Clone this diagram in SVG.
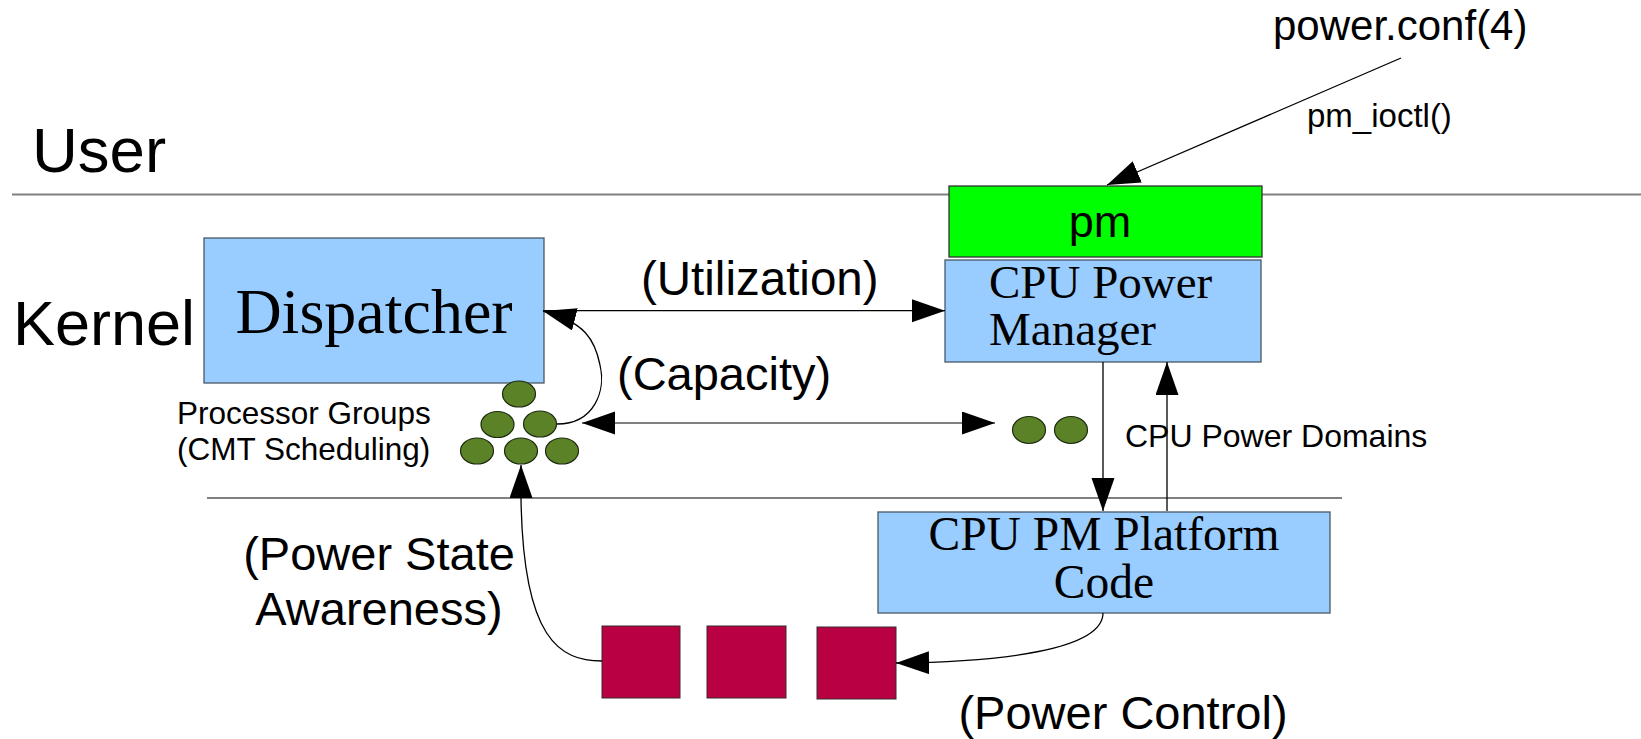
<svg xmlns="http://www.w3.org/2000/svg" width="1641" height="739" viewBox="0 0 1641 739">
<style>
.sans{font-family:"Liberation Sans",Arial,sans-serif;fill:#000}
.serif{font-family:"Liberation Serif","Times New Roman",serif;fill:#000}
.blue{fill:#99ccff;stroke:#4a5866;stroke-width:1.3}
.red{fill:#b80043;stroke:#3a2a2a;stroke-width:1}
.dot{fill:#5b8227;stroke:#1e2a10;stroke-width:1.2}
.sep{stroke:#808080;stroke-width:2;fill:none}
.conn{stroke:#000;stroke-width:1.3;fill:none}
</style>
<defs>
<marker id="arr" markerUnits="userSpaceOnUse" markerWidth="34" markerHeight="24" refX="33" refY="11.5" orient="auto-start-reverse" viewBox="0 0 34 24">
<path d="M0,0 L33,11.5 L0,23 z" fill="#000"/>
</marker>
</defs>
<rect width="1641" height="739" fill="#fff"/>

<g id="separators">
<line class="sep" x1="12" y1="194.5" x2="1641" y2="194.5"/>
<line class="sep" x1="207" y1="498" x2="1342" y2="498"/>
</g>

<g id="labels">
<text class="sans" x="32" y="172" font-size="63.5">User</text>
<text class="sans" x="13" y="345" font-size="63">Kernel</text>
<text class="sans" x="1273" y="40" font-size="42">power.conf(4)</text>
<text class="sans" x="1307" y="127" font-size="33">pm_ioctl()</text>
<text class="sans" x="641" y="295" font-size="47.5">(Utilization)</text>
<text class="sans" x="617" y="390" font-size="47">(Capacity)</text>
<text class="sans" x="1125" y="447" font-size="32">CPU Power Domains</text>
<text class="sans" x="177" y="424" font-size="31.5">Processor Groups</text>
<text class="sans" x="177" y="460" font-size="31.5">(CMT Scheduling)</text>
<text class="sans" x="379" y="570" font-size="47" text-anchor="middle">(Power State</text>
<text class="sans" x="379" y="625" font-size="47" text-anchor="middle">Awareness)</text>
<text class="sans" x="1123" y="729" font-size="47" text-anchor="middle">(Power Control)</text>
</g>

<g id="dispatcher">
<rect class="blue" x="204" y="238" width="340" height="145"/>
<text class="serif" x="374" y="333" font-size="64" text-anchor="middle">Dispatcher</text>
</g>

<g id="pm">
<rect x="949" y="186" width="313" height="71" fill="#00ff00" stroke="#333" stroke-width="1.3"/>
<text class="sans" x="1100" y="237" font-size="45" text-anchor="middle">pm</text>
</g>

<g id="cpu-power-manager">
<rect class="blue" x="945" y="260" width="316" height="102"/>
<text class="serif" x="989" y="298" font-size="47">CPU Power</text>
<text class="serif" x="989" y="345" font-size="47">Manager</text>
</g>

<g id="cpu-pm-platform-code">
<rect class="blue" x="878" y="512" width="452" height="101"/>
<text class="serif" x="1104" y="550" font-size="47.5" text-anchor="middle">CPU PM Platform</text>
<text class="serif" x="1104" y="598" font-size="47.5" text-anchor="middle">Code</text>
</g>

<g id="processor-groups">
<ellipse class="dot" cx="519" cy="394" rx="16.5" ry="13"/>
<ellipse class="dot" cx="497.5" cy="424.5" rx="16.5" ry="13"/>
<ellipse class="dot" cx="540" cy="424" rx="16.5" ry="13"/>
<ellipse class="dot" cx="477" cy="451" rx="16.5" ry="13"/>
<ellipse class="dot" cx="521" cy="451" rx="16.5" ry="13"/>
<ellipse class="dot" cx="562" cy="451" rx="16.5" ry="13"/>
</g>

<g id="power-domains">
<ellipse class="dot" cx="1029" cy="430" rx="16.5" ry="13.5"/>
<ellipse class="dot" cx="1071" cy="430" rx="16.5" ry="13.5"/>
</g>

<g id="hardware">
<rect class="red" x="602" y="626" width="78" height="72"/>
<rect class="red" x="707" y="626" width="79" height="72"/>
<rect class="red" x="817" y="627" width="79" height="72"/>
</g>

<g id="connectors">
<line class="conn" x1="1401" y1="58" x2="1107" y2="185" marker-end="url(#arr)"/>
<line class="conn" x1="543" y1="310.7" x2="945" y2="310.7" marker-end="url(#arr)"/>
<path class="conn" d="M557,424 C595,424 606,390 600,365 C595,340 585,322 543,311" marker-end="url(#arr)"/>
<line x1="582" y1="423" x2="995" y2="423" stroke="#808080" stroke-width="2" marker-start="url(#arr)" marker-end="url(#arr)"/>
<line class="conn" x1="1103" y1="362" x2="1103" y2="511" marker-end="url(#arr)"/>
<line class="conn" x1="1167" y1="511" x2="1167" y2="362" marker-end="url(#arr)"/>
<path class="conn" d="M1103,613 C1103,650 1000,662 896,663" marker-end="url(#arr)"/>
<path class="conn" d="M602,661 C560,661 523,640 521,498 L521,465" marker-end="url(#arr)"/>
</g>
</svg>
